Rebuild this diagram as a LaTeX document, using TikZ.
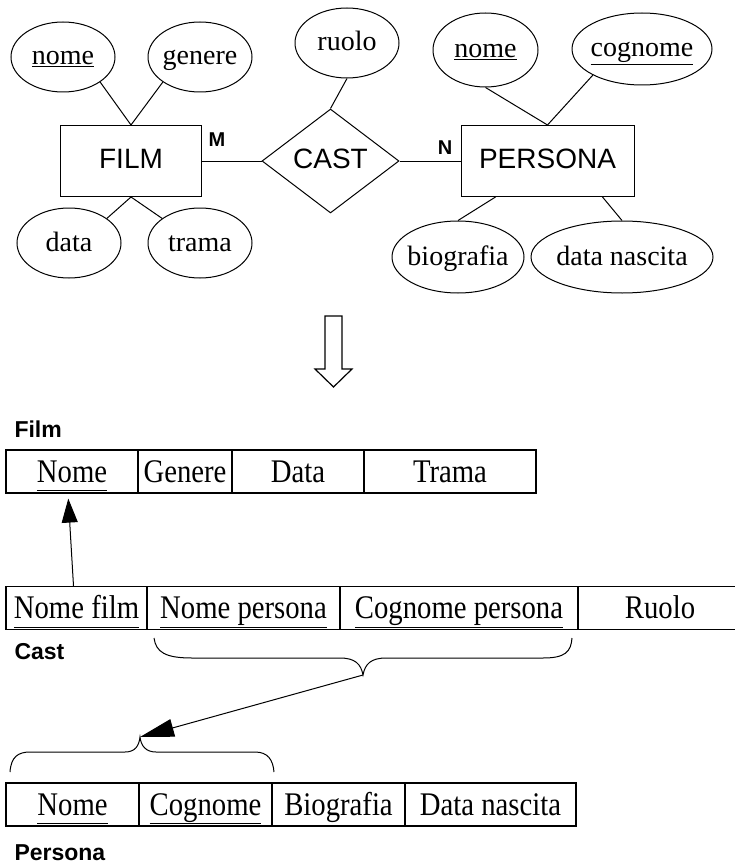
\documentclass[tikz,border=0pt]{standalone}
\usepackage{fontspec}
\setmainfont{Liberation Serif}
\newfontfamily\ersans{Liberation Sans}
\newfontfamily\tabserif[FakeStretch=0.87]{Liberation Serif}
\usetikzlibrary{shapes.geometric,arrows.meta}

% zero-width text so that the shape size comes from the minimum sizes only
\newcommand\zw[1]{\makebox[0pt]{#1}}
% key underline at a common depth
\newcommand\keyul[1]{\underline{#1\vphantom{g}}}

\begin{document}
\begin{tikzpicture}[x=1pt,y=-1pt,line width=1pt,
  attr/.style={ellipse,draw,inner sep=0pt,minimum width=104pt,minimum height=70pt,
    text height=16pt,text depth=0pt,font=\fontsize{28}{30}\selectfont},
  entity/.style={rectangle,draw,inner sep=0pt,minimum height=71pt,
    text height=15pt,text depth=0pt,font=\ersans\fontsize{28}{30}\selectfont},
  rel/.style={diamond,draw,inner sep=0pt,minimum width=137pt,minimum height=104pt,
    text height=15pt,text depth=0pt,font=\ersans\fontsize{28}{30}\selectfont},
  card/.style={inner sep=0pt,font=\ersans\bfseries\fontsize{20}{22}\selectfont},
  tlabel/.style={anchor=base west,inner sep=0pt,font=\ersans\bfseries\fontsize{23}{25}\selectfont},
  cell/.style={rectangle,draw,line width=1.2pt,inner sep=0pt,minimum height=43pt,
    text height=21pt,text depth=0pt,font=\tabserif\fontsize{33}{35}\selectfont},
]
\path[fill=white] (0,0) rectangle (734,864);
\useasboundingbox (0,0) rectangle (734,864);

% ---------------- E-R schema ----------------
\node[attr] (fnome) at (63,57) {\zw{\underline{nome}}};
\node[attr] (fgen) at (200,57) {\zw{genere}};
\node[attr] (fdata) at (69,243) {\zw{data}};
\node[attr] (ftrama) at (200,243) {\zw{trama}};
\node[attr] (ruolo) at (347,43) {\zw{ruolo}};
\node[attr,minimum width=105pt,minimum height=74pt] (pnome) at (485.5,50) {\zw{\underline{nome}}};
\node[attr,minimum width=140pt,minimum height=72pt] (pcog) at (642,49) {\zw{\underline{cognome}}};
\node[attr,minimum width=132pt,minimum height=72pt] (pbio) at (458,257) {\zw{biografia}};
\node[attr,minimum width=182pt,minimum height=72pt] (pdn) at (622,257) {\zw{data nascita}};

\node[entity,minimum width=141pt] (film) at (131,161) {\zw{FILM}};
\node[entity,minimum width=173pt] (persona) at (547.5,161) {\zw{PERSONA}};
\node[rel] (cast) at (330.5,161) {\zw{CAST}};

\node[card] (m) at (217,140) {M};
\node[card] (n) at (445,148) {N};

\draw (fnome.-34) -- (film.north);
\draw (fgen.-146) -- (film.north);
\draw (fdata.33) -- (film.south);
\draw (ftrama.147) -- (film.south);
\draw (ruolo.south) -- (cast.north);
\draw (film.east) -- (cast.west);
\draw (cast.east) -- (persona.west);
\draw (pnome.south) -- (persona.north);
\draw (pcog.-152) -- (persona.north);
\draw ([xshift=-52pt]persona.south) -- (pbio.north);
\draw ([xshift=55pt]persona.south) -- (pdn.north);

% hollow translation arrow
\draw[line width=1.2pt] (325,316) -- (342,316) -- (342,369) -- (352,369) -- (333.5,387)
  -- (315,369) -- (325,369) -- cycle;

% ---------------- relational tables ----------------
\node[tlabel] (lfilm) at (14,437) {Film};
\node[cell,minimum width=132pt] (fN) at (72,471.5) {\keyul{Nome}};
\node[cell,minimum width=94pt] (fG) at (185,471.5) {Genere};
\node[cell,minimum width=132pt] (fD) at (298,471.5) {Data};
\node[cell,minimum width=172pt] (fT) at (450,471.5) {Trama};

\node[cell,minimum width=141pt] (cNf) at (76.5,608) {\keyul{Nome film}};
\node[cell,minimum width=193pt] (cNp) at (243.5,608) {\keyul{Nome persona}};
\node[cell,minimum width=238pt] (cCp) at (459,608) {\keyul{Cognome persona}};
\node[cell,minimum width=164pt] (cR) at (660,608) {Ruolo};
\node[tlabel] (lcast) at (14,659) {Cast};

\node[cell,minimum width=133pt] (pN) at (72.5,804.5) {\keyul{Nome}};
\node[cell,minimum width=133pt] (pC) at (205.5,804.5) {\keyul{Cognome}};
\node[cell,minimum width=133pt] (pB) at (338.5,804.5) {Biografia};
\node[cell,minimum width=171pt] (pD) at (490.5,804.5) {Data nascita};
\node[tlabel] (lpers) at (14,860) {Persona};

% foreign key Nome film -> Film.Nome
\draw[-{Triangle[length=24pt,width=16pt]},shorten >=5pt]
  ([xshift=-3pt]cNf.north) -- ([xshift=-4pt]fN.south);

% braces grouping the composite key
\coordinate (bupTip) at (363,675);
\coordinate (blowTip) at (140,737);
\draw (154,638) .. controls (156,652) and (165,658) .. (192,658) -- (340,658)
  .. controls (355,658) and (361,664) .. (bupTip)
  .. controls (365,664) and (371,658) .. (386,658) -- (543,658)
  .. controls (565,658) and (571,652) .. (572,638);
\draw (10,772) .. controls (11,757) and (18,752) .. (30,752) -- (125,752)
  .. controls (135,752) and (139,746) .. (blowTip)
  .. controls (141,746) and (146,752) .. (156,752) -- (255,752)
  .. controls (268,752) and (273,760) .. (274,772);
\draw[-{Triangle[length=34pt,width=18pt]}] (bupTip) -- (blowTip);
\end{tikzpicture}
\end{document}
